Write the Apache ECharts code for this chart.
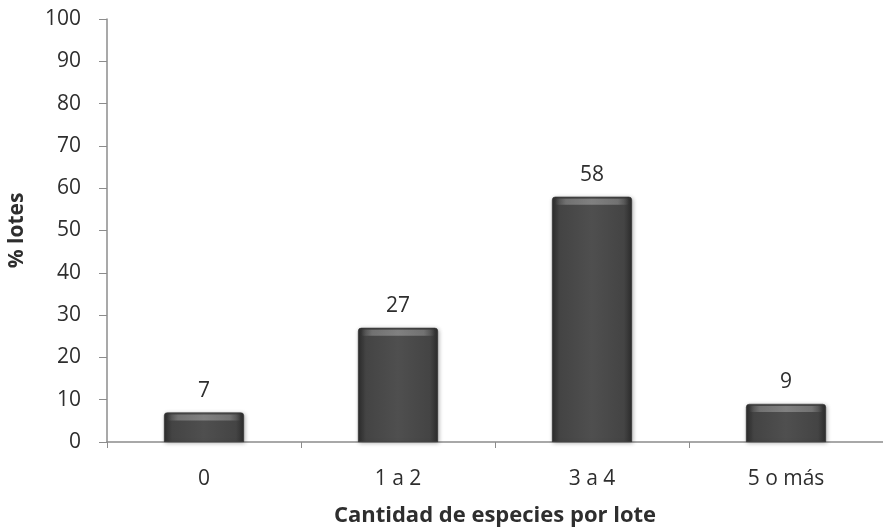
<!DOCTYPE html>
<html>
<head>
<meta charset="utf-8">
<script src="https://cdn.jsdelivr.net/npm/echarts@6/dist/echarts.min.js"></script>
<style>
  html, body { margin: 0; padding: 0; background: #fff; }
  #chart { width: 883px; height: 529px; }
</style>
</head>
<body>
<div id="chart"></div>
<script>
// Share of plots by number of species
const categories = ['0', '1 a 2', '3 a 4', '5 o más'];
const percentLots = [7, 27, 58, 9];
const yTicks = { min: 0, max: 100, interval: 10 };

const FONT = '"Open Sans", "Liberation Sans", sans-serif';
const TEXT = '#2e2e2e';
const AXIS = '#8c8c8c';
const BAR_W = 80;

// Dark bar body, shaded darker towards both sides
const barFill = new echarts.graphic.LinearGradient(0, 0, 1, 0, [
  { offset: 0, color: '#2c2c2c' },
  { offset: 0.1, color: '#444' },
  { offset: 0.5, color: '#4f4f4f' },
  { offset: 0.9, color: '#444' },
  { offset: 1, color: '#2c2c2c' }
]);

// Soft bevel highlight along the top edge of each bar
function renderBevel(params, api) {
  const top = api.coord([api.value(0), api.value(1)]);
  const half = BAR_W / 2;
  return {
    type: 'rect',
    shape: { x: top[0] - half + 3, y: top[1] + 2, width: BAR_W - 6, height: 6, r: 2 },
    style: {
      fill: new echarts.graphic.LinearGradient(0, 0, 1, 0, [
        { offset: 0, color: 'rgba(190,190,190,0)' },
        { offset: 0.15, color: 'rgba(180,180,180,0.4)' },
        { offset: 0.5, color: 'rgba(190,190,190,0.45)' },
        { offset: 0.85, color: 'rgba(180,180,180,0.4)' },
        { offset: 1, color: 'rgba(190,190,190,0)' }
      ])
    },
    silent: true
  };
}

const chart = echarts.init(document.getElementById('chart'), null, { renderer: 'canvas' });
chart.setOption({
  animation: false,
  backgroundColor: '#fff',
  grid: { left: 107, right: 0, top: 19, bottom: 87, containLabel: false, outerBoundsMode: 'none' },
  xAxis: {
    type: 'category',
    data: categories,
    name: 'Cantidad de especies por lote',
    nameLocation: 'middle',
    nameGap: 63,
    nameTextStyle: { fontFamily: FONT, fontSize: 22, fontWeight: 'bold', color: TEXT },
    axisLine: { lineStyle: { color: AXIS, width: 1.5 } },
    axisTick: { show: true, alignWithLabel: false, length: 6, lineStyle: { color: AXIS } },
    axisLabel: { margin: 27, fontFamily: FONT, fontSize: 21, color: TEXT }
  },
  yAxis: {
    type: 'value',
    min: yTicks.min,
    max: yTicks.max,
    interval: yTicks.interval,
    name: '% lotes',
    nameLocation: 'middle',
    nameGap: 79,
    nameRotate: 90,
    nameTextStyle: { fontFamily: FONT, fontSize: 21, fontWeight: 'bold', color: TEXT },
    axisLine: { show: true, lineStyle: { color: AXIS, width: 1.5 } },
    axisTick: { show: true, length: 8, lineStyle: { color: AXIS } },
    axisLabel: { margin: 26, fontFamily: FONT, fontSize: 21, color: TEXT },
    splitLine: { show: false }
  },
  series: [{
    type: 'bar',
    data: percentLots,
    barWidth: BAR_W,
    itemStyle: {
      color: barFill,
      borderColor: '#2a2a2a',
      borderWidth: 0.5,
      borderRadius: [3, 3, 0, 0],
      shadowColor: 'rgba(0,0,0,0.3)',
      shadowBlur: 4,
      shadowOffsetX: 1,
      shadowOffsetY: 1
    },
    label: {
      show: true,
      position: 'top',
      distance: 11,
      fontFamily: FONT,
      fontSize: 21,
      color: TEXT
    }
  }, {
    type: 'custom',
    data: percentLots.map((v, i) => [i, v]),
    renderItem: renderBevel,
    z: 5,
    silent: true
  }]
});
</script>
</body>
</html>
